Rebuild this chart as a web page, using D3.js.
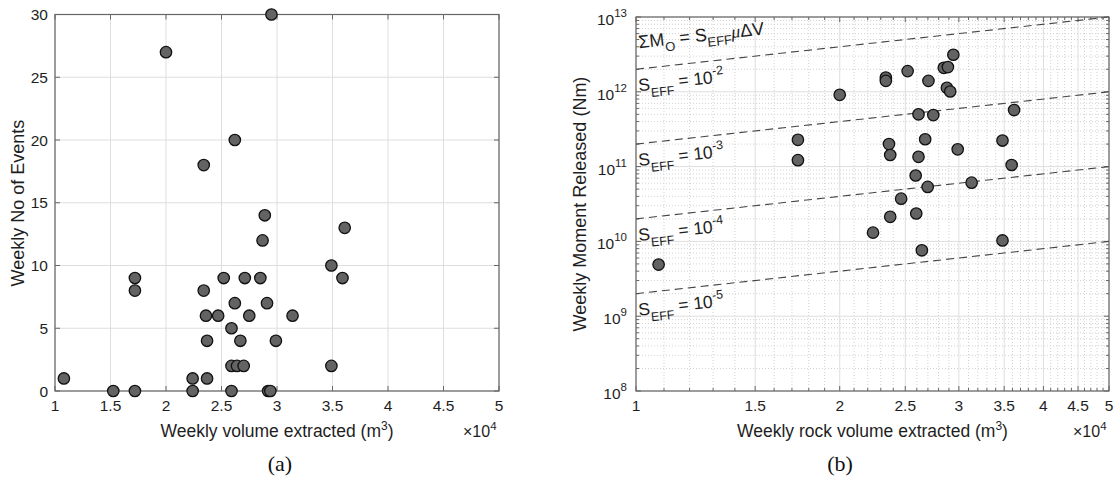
<!DOCTYPE html>
<html>
<head>
<meta charset="utf-8">
<script src="https://cdn.jsdelivr.net/npm/d3@7"></script>
<style>
  body { margin: 0; background: #fff; }
  svg { font-family: "Liberation Sans", Arial, sans-serif; }
</style>
</head>
<body>
<svg id="chart" width="1119" height="477"></svg>
<script>
// panel (a): weekly volume (m3) vs number of events
var volA = [10800, 15250, 17200, 17200, 17200, 20000, 22400, 22400, 23400, 23400,
            23600, 23700, 23700, 24700, 25200, 25900, 25900, 25900, 26200, 26200,
            26400, 26700, 27000, 27100, 27500, 28500, 28700, 28900, 29100, 29200,
            29400, 29500, 29900, 31400, 34900, 34900, 35900, 36100];
var eventsA = [1, 0, 9, 8, 0, 27, 1, 0, 18, 8,
               6, 4, 1, 6, 9, 5, 2, 0, 20, 7,
               2, 4, 2, 9, 6, 9, 12, 14, 7, 0,
               0, 30, 4, 6, 10, 2, 9, 13];

// panel (b): weekly volume (m3) vs moment released (Nm)
var volB = [10800, 17350, 17350, 20000, 22400, 23400, 23400, 23650, 23750, 23750,
            24650, 25200, 25900, 25950, 26150, 26150, 26450, 26750, 26980, 27050,
            27500, 28500, 28800, 28900, 29130, 29440, 29880, 31330, 34800, 34800,
            35900, 36200];
var momentB = [4.9e9, 2.28e11, 1.22e11, 9.1e11, 1.31e10, 1.55e12, 1.4e12, 2.0e11, 1.43e11, 2.13e10,
               3.73e10, 1.89e12, 7.6e10, 2.36e10, 5.0e11, 1.35e11, 7.6e9, 2.32e11, 5.35e10, 1.4e12,
               4.88e11, 2.09e12, 1.13e12, 2.14e12, 1.01e12, 3.13e12, 1.7e11, 6.1e10, 2.23e11, 1.03e10,
               1.05e11, 5.7e11];

var xTicks = [1, 1.5, 2, 2.5, 3, 3.5, 4, 4.5, 5];   // x 10^4
var yTicksA = [0, 5, 10, 15, 20, 25, 30];
var yExpB = [8, 9, 10, 11, 12, 13];
var sEff = [-2, -3, -4, -5];   // exponents of S_EFF
var mu = 2e10;

var txt = "#1e1e1e", gridCol = "#dedede", frameCol = "#666";
var svg = d3.select("#chart");

function supText(sel, base, sup, size) {
  sel.append("tspan").text(base);
  sel.append("tspan").attr("font-size", size * 0.72).attr("dy", -size * 0.42).text(sup);
}

// ---------- panel (a) ----------
var xA = d3.scaleLinear().domain([1e4, 5e4]).range([55, 499]);
var yA = d3.scaleLinear().domain([0, 30]).range([391, 14.5]);
var gA = svg.append("g");

gA.selectAll(".vg").data(xTicks).enter().append("line")
  .attr("x1", function(d) { return xA(d * 1e4); }).attr("x2", function(d) { return xA(d * 1e4); })
  .attr("y1", yA(0)).attr("y2", yA(30)).attr("stroke", gridCol);
gA.selectAll(".hg").data(yTicksA).enter().append("line")
  .attr("x1", xA(1e4)).attr("x2", xA(5e4))
  .attr("y1", function(d) { return yA(d); }).attr("y2", function(d) { return yA(d); })
  .attr("stroke", gridCol);

// inward ticks
xTicks.forEach(function(d) {
  var x = xA(d * 1e4);
  gA.append("line").attr("x1", x).attr("x2", x).attr("y1", yA(0)).attr("y2", yA(0) - 5).attr("stroke", frameCol);
  gA.append("line").attr("x1", x).attr("x2", x).attr("y1", yA(30)).attr("y2", yA(30) + 5).attr("stroke", frameCol);
});
yTicksA.forEach(function(d) {
  var y = yA(d);
  gA.append("line").attr("x1", xA(1e4)).attr("x2", xA(1e4) + 5).attr("y1", y).attr("y2", y).attr("stroke", frameCol);
  gA.append("line").attr("x1", xA(5e4)).attr("x2", xA(5e4) - 5).attr("y1", y).attr("y2", y).attr("stroke", frameCol);
});
gA.append("rect").attr("x", xA(1e4)).attr("y", yA(30))
  .attr("width", xA(5e4) - xA(1e4)).attr("height", yA(0) - yA(30))
  .attr("fill", "none").attr("stroke", frameCol).attr("stroke-width", 1.2);

gA.selectAll(".xl").data(xTicks).enter().append("text")
  .attr("x", function(d) { return xA(d * 1e4); }).attr("y", 411)
  .attr("text-anchor", "middle").attr("font-size", 15.5).attr("fill", txt).text(function(d) { return d; });
gA.selectAll(".yl").data(yTicksA).enter().append("text")
  .attr("x", 48).attr("y", function(d) { return yA(d) + 5.5; })
  .attr("text-anchor", "end").attr("font-size", 15.5).attr("fill", txt).text(function(d) { return d; });

gA.selectAll("circle").data(volA).enter().append("circle")
  .attr("cx", function(d) { return xA(d); })
  .attr("cy", function(d, i) { return yA(eventsA[i]); })
  .attr("r", 5.7).attr("fill", "#636363").attr("stroke", "#111").attr("stroke-width", 1.3);

var la = gA.append("text").attr("x", 277).attr("y", 437).attr("text-anchor", "middle")
  .attr("font-size", 17.5).attr("fill", txt);
la.append("tspan").text("Weekly volume extracted (m");
la.append("tspan").attr("font-size", 12).attr("dy", -7).text("3");
la.append("tspan").attr("dy", 7).text(")");
supText(gA.append("text").attr("x", 463).attr("y", 437).attr("font-size", 16).attr("fill", txt), "\u00d710", "4", 16);
gA.append("text").attr("transform", "translate(24,203) rotate(-90)").attr("text-anchor", "middle")
  .attr("font-size", 18).attr("fill", txt).text("Weekly No of Events");
gA.append("text").attr("x", 280).attr("y", 471).attr("text-anchor", "middle")
  .attr("font-family", "Liberation Serif, Times New Roman, serif").attr("font-size", 22).attr("fill", "#111").text("(a)");

// ---------- panel (b) ----------
var xB = d3.scaleLog().domain([1e4, 5e4]).range([636, 1109]);
var yB = d3.scaleLog().domain([1e8, 1e13]).range([391, 17]);
var gB = svg.append("g");

var minorX = d3.range(11, 50).filter(function(k) { return k % 5 !== 0; }).map(function(k) { return k * 1e3; });
var minorY = [];
yExpB.slice(0, -1).forEach(function(e) {
  for (var k = 2; k <= 9; k++) minorY.push(k * Math.pow(10, e));
});

gB.selectAll(".mvg").data(minorX).enter().append("line")
  .attr("x1", function(d) { return xB(d); }).attr("x2", function(d) { return xB(d); })
  .attr("y1", yB(1e8)).attr("y2", yB(1e13))
  .attr("stroke", "#d2d2d2").attr("stroke-dasharray", "1,2");
gB.selectAll(".mhg").data(minorY).enter().append("line")
  .attr("x1", xB(1e4)).attr("x2", xB(5e4))
  .attr("y1", function(d) { return yB(d); }).attr("y2", function(d) { return yB(d); })
  .attr("stroke", "#d2d2d2").attr("stroke-dasharray", "1,2");
gB.selectAll(".vg").data(xTicks).enter().append("line")
  .attr("x1", function(d) { return xB(d * 1e4); }).attr("x2", function(d) { return xB(d * 1e4); })
  .attr("y1", yB(1e8)).attr("y2", yB(1e13)).attr("stroke", gridCol);
gB.selectAll(".hg").data(yExpB).enter().append("line")
  .attr("x1", xB(1e4)).attr("x2", xB(5e4))
  .attr("y1", function(d) { return yB(Math.pow(10, d)); }).attr("y2", function(d) { return yB(Math.pow(10, d)); })
  .attr("stroke", gridCol);

// ticks, major and minor
xTicks.map(function(d) { return [d * 1e4, 5]; }).concat(minorX.map(function(d) { return [d, 3]; }))
  .forEach(function(t) {
    var x = xB(t[0]);
    gB.append("line").attr("x1", x).attr("x2", x).attr("y1", yB(1e8)).attr("y2", yB(1e8) - t[1]).attr("stroke", frameCol);
    gB.append("line").attr("x1", x).attr("x2", x).attr("y1", yB(1e13)).attr("y2", yB(1e13) + t[1]).attr("stroke", frameCol);
  });
yExpB.map(function(e) { return [Math.pow(10, e), 5]; }).concat(minorY.map(function(d) { return [d, 3]; }))
  .forEach(function(t) {
    var y = yB(t[0]);
    gB.append("line").attr("x1", xB(1e4)).attr("x2", xB(1e4) + t[1]).attr("y1", y).attr("y2", y).attr("stroke", frameCol);
    gB.append("line").attr("x1", xB(5e4)).attr("x2", xB(5e4) - t[1]).attr("y1", y).attr("y2", y).attr("stroke", frameCol);
  });

// reference lines  sum M0 = S_EFF * mu * dV
var lineB = d3.line().x(function(d) { return xB(d[0]); }).y(function(d) { return yB(d[1]); });
sEff.forEach(function(e) {
  var s = Math.pow(10, e);
  gB.append("path").attr("d", lineB([[1e4, s * mu * 1e4], [5e4, s * mu * 5e4]]))
    .attr("fill", "none").attr("stroke", "#444").attr("stroke-width", 1.1).attr("stroke-dasharray", "8,5");
});

gB.append("rect").attr("x", xB(1e4)).attr("y", yB(1e13))
  .attr("width", xB(5e4) - xB(1e4)).attr("height", yB(1e8) - yB(1e13))
  .attr("fill", "none").attr("stroke", frameCol).attr("stroke-width", 1.2);

gB.selectAll("circle").data(volB).enter().append("circle")
  .attr("cx", function(d) { return xB(d); })
  .attr("cy", function(d, i) { return yB(momentB[i]); })
  .attr("r", 5.7).attr("fill", "#636363").attr("stroke", "#111").attr("stroke-width", 1.3);

// labels along the lines
var ang = Math.atan2(yB(5e4 * mu * 1e-2) - yB(1e4 * mu * 1e-2), xB(5e4) - xB(1e4)) * 180 / Math.PI;
var eqLbl = gB.append("text").attr("font-size", 18).attr("fill", txt)
  .attr("transform", "translate(" + (xB(1e4) + 3) + "," + (yB(1e4 * mu * 1e-2) - 21) + ") rotate(" + ang + ")");
eqLbl.append("tspan").text("\u03a3M");
eqLbl.append("tspan").attr("font-size", 13).attr("dy", 6).text("O");
eqLbl.append("tspan").attr("dy", -6).text(" = S");
eqLbl.append("tspan").attr("font-size", 13).attr("dy", 6).text("EFF");
eqLbl.append("tspan").attr("dy", -6).attr("font-style", "italic").attr("font-family", "Liberation Serif, serif").text("\u03bc");
eqLbl.append("tspan").text("\u0394V");

sEff.forEach(function(e) {
  var t = gB.append("text").attr("font-size", 17.5).attr("fill", txt)
    .attr("transform", "translate(" + (xB(1e4) + 3) + "," + (yB(1e4 * mu * Math.pow(10, e)) + 22) + ") rotate(" + ang + ")");
  t.append("tspan").text("S");
  t.append("tspan").attr("font-size", 12.5).attr("dy", 7).text("EFF");
  t.append("tspan").attr("dy", -7).text(" = 10");
  t.append("tspan").attr("font-size", 12.5).attr("dy", -8).text(e);
});

gB.selectAll(".xl").data(xTicks).enter().append("text")
  .attr("x", function(d) { return xB(d * 1e4); }).attr("y", 411)
  .attr("text-anchor", "middle").attr("font-size", 15.5).attr("fill", txt).text(function(d) { return d; });
yExpB.forEach(function(e) {
  var t = gB.append("text").attr("x", 627).attr("y", yB(Math.pow(10, e)) + 8)
    .attr("text-anchor", "end").attr("font-size", 15.5).attr("fill", txt);
  t.append("tspan").text("10");
  t.append("tspan").attr("font-size", 11.5).attr("dy", -8).text(e);
});

var lb = gB.append("text").attr("x", xB(Math.sqrt(5) * 1e4)).attr("y", 437).attr("text-anchor", "middle")
  .attr("font-size", 17.5).attr("fill", txt);
lb.append("tspan").text("Weekly rock volume extracted (m");
lb.append("tspan").attr("font-size", 12).attr("dy", -7).text("3");
lb.append("tspan").attr("dy", 7).text(")");
supText(gB.append("text").attr("x", 1073).attr("y", 437).attr("font-size", 16).attr("fill", txt), "\u00d710", "4", 16);
gB.append("text").attr("transform", "translate(586,204) rotate(-90)").attr("text-anchor", "middle")
  .attr("font-size", 18).attr("fill", txt).text("Weekly Moment Released (Nm)");
gB.append("text").attr("x", 840).attr("y", 471).attr("text-anchor", "middle")
  .attr("font-family", "Liberation Serif, Times New Roman, serif").attr("font-size", 22).attr("fill", "#111").text("(b)");
</script>
</body>
</html>
